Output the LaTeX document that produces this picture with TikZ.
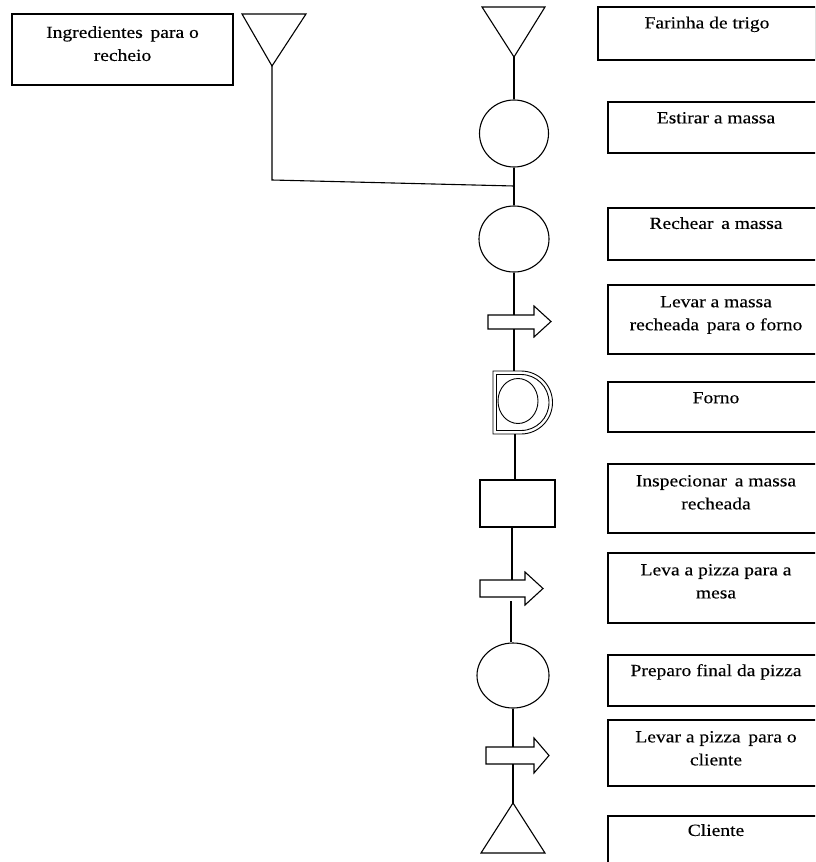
\documentclass[tikz,border=0pt]{standalone}
\usepackage{fontspec}
\setmainfont{Liberation Serif}[FakeStretch=1.15, FakeBold=0.25]
\usetikzlibrary{shapes.geometric}
\begin{document}
\begin{tikzpicture}[x=1pt,y=-1pt,
  box/.style={draw, rectangle, inner sep=0pt, line width=1.2pt},
  lbl/.style={anchor=north, inner sep=0pt, align=center, font=\fontsize{17}{23}\selectfont},
  flow/.style={line width=1.1pt},
  oval/.style={draw, ellipse, inner sep=0pt, line width=1.1pt},
  sym/.style={draw, line width=1.1pt, fill=white, line join=miter},
  dshape/.style={draw, line width=0.9pt}]
\useasboundingbox (0,0) rectangle (815,862);
\clip (0,0) rectangle (815,862);

% ---------- description boxes ----------
\node[box, minimum width=221pt, minimum height=71pt] (ing) at (122.5,49.5) {};
\node[lbl] (ingt) at ([yshift=-12.5pt]ing.north) {Ingredientes\ \,para o\\recheio};

\node[box, minimum width=218pt, minimum height=53pt] (far) at (707,33.5) {};
\node[lbl] (fart) at ([yshift=-10pt]far.north) {Farinha de trigo};

\node[box, minimum width=216pt, minimum height=51pt] (est) at (716,127.5) {};
\node[lbl] (estt) at ([yshift=-10.5pt]est.north) {Estirar a massa};

\node[box, minimum width=216pt, minimum height=52pt] (rec) at (716,234) {};
\node[lbl] (rect) at ([yshift=-9.5pt]rec.north) {Rechear\ \,a massa};

\node[box, minimum width=216pt, minimum height=69pt] (levA) at (716,319.5) {};
\node[lbl] (levAt) at ([yshift=-11.5pt]levA.north) {Levar a massa\\recheada\ \,para o forno};

\node[box, minimum width=216pt, minimum height=50pt] (forno) at (716,407) {};
\node[lbl] (fornot) at ([yshift=-10.5pt]forno.north) {Forno};

\node[box, minimum width=216pt, minimum height=69pt] (insp) at (716,498.5) {};
\node[lbl] (inspt) at ([yshift=-11.5pt]insp.north) {Inspecionar\ \,a massa\\recheada};

\node[box, minimum width=216pt, minimum height=70pt] (leva) at (716,588) {};
\node[lbl] (levat) at ([yshift=-11.5pt]leva.north) {Leva a pizza para a\\mesa};

\node[box, minimum width=216pt, minimum height=51pt] (prep) at (716,680.5) {};
\node[lbl] (prept) at ([yshift=-9.5pt]prep.north) {Preparo final da pizza};

\node[box, minimum width=216pt, minimum height=66pt] (levB) at (716,753) {};
\node[lbl] (levBt) at ([yshift=-11.5pt]levB.north) {Levar a pizza\ \,para o\\cliente};

\node[box, minimum width=216pt, minimum height=56pt] (cli) at (716,844) {};
\node[lbl] (clit) at ([yshift=-8.5pt]cli.north) {Cliente};

% ---------- left storage (ingredients) ----------
\coordinate (t0a) at (242,14);
\coordinate (t0b) at (306,14);
\coordinate (t0) at (272,66);
\draw[sym] (t0a) -- (t0b) -- (t0) -- cycle;
\coordinate (k) at (272,180);

% ---------- main column ----------
\coordinate (t1a) at (482,7);
\coordinate (t1b) at (545,7);
\coordinate (t1) at (514,57);
\draw[sym] (t1a) -- (t1b) -- (t1) -- cycle;

\node[oval, minimum width=69pt, minimum height=67pt] (c1) at (514,133.5) {};
\coordinate (j) at (514,186);
\node[oval, minimum width=70pt, minimum height=66pt] (c2) at (514,239) {};

% arrow 1
\coordinate (a1t) at (514,315);
\coordinate (a1b) at (514,329);
\draw[sym] (488,315) -- (534,315) -- (534,306) -- (551,321.5) -- (534,337) -- (534,329) -- (488,329) -- cycle;

% delay D
\coordinate (dT) at (514,371);
\coordinate (dB) at (515,434);
\draw[dshape] (493,371) -- (521,371) arc[start angle=90, end angle=-90, radius=31.5pt] -- (493,434) -- cycle;
\draw[dshape] (496.5,374.5) -- (521,374.5) arc[start angle=90, end angle=-90, radius=28pt] -- (496.5,430.5) -- cycle;
\node[draw, ellipse, inner sep=0pt, line width=0.9pt, minimum width=40pt, minimum height=45pt] (dc) at (518,401) {};

% inspection
\node[box, line width=1.1pt, minimum width=75pt, minimum height=47pt] (r) at (517.5,503.5) {};

% arrow 2
\coordinate (a2t) at (512,580);
\coordinate (a2b) at (511,601);
\draw[sym] (480,580) -- (525,580) -- (525,572) -- (543,588.5) -- (525,605) -- (525,597) -- (480,597) -- cycle;

\node[oval, minimum width=72pt, minimum height=65pt] (c3) at (513,675.5) {};

% arrow 3
\coordinate (a3t) at (513,747);
\coordinate (a3b) at (513,764);
\draw[sym] (486,747) -- (534,747) -- (534,738) -- (549,755.5) -- (534,773) -- (534,764) -- (486,764) -- cycle;

% final storage (client)
\coordinate (t2) at (513,803);
\coordinate (t2a) at (545,853);
\coordinate (t2b) at (481,853);
\draw[sym] (t2) -- (t2a) -- (t2b) -- cycle;

% ---------- connectors ----------
\draw[flow] (t0) -- (k) -- (j);
\draw[flow] (t1) -- (c1.north);
\draw[flow] (c1.south) -- (j) -- (c2.north);
\draw[flow] (c2.south) -- (a1t);
\draw[flow] (a1b) -- (dT);
\draw[flow] (dB) -- (dB |- r.north);
\draw[flow] (a2t |- r.south) -- (a2t);
\draw[flow] (a2b) -- (a2b |- c3.north);
\draw[flow] (c3.south) -- (a3t);
\draw[flow] (a3b) -- (t2);
\end{tikzpicture}
\end{document}
